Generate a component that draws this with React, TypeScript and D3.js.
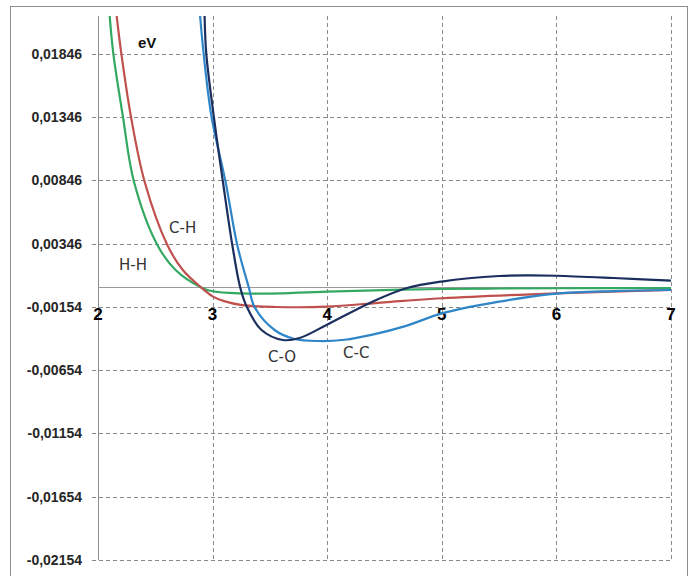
import * as React from 'react'
import * as d3 from 'd3'

const xTicks = [2, 3, 4, 5, 6, 7]
const yTicks = [0.01846, 0.01346, 0.00846, 0.00346, -0.00154, -0.00654, -0.01154, -0.01654, -0.02154]
const yTickLabels = ['0,01846', '0,01346', '0,00846', '0,00346', '-0,00154', '-0,00654', '-0,01154', '-0,01654', '-0,02154']

// H-H
const hhPoints: [number, number][] = [
  [2.102, 0.02146], [2.134, 0.01846], [2.218, 0.01348], [2.314, 0.00836], [2.518, 0.00336],
  [2.677, 0.00138], [2.9, 0], [3.0, -0.0003], [3.26, -0.00047], [3.5, -0.00048],
  [4.0, -0.00032], [5.0, -0.00012], [6.0, -0.00006], [7.0, -0.00004],
]
// C-H
const chPoints: [number, number][] = [
  [2.163, 0.02146], [2.204, 0.01846], [2.288, 0.01348], [2.407, 0.00836], [2.605, 0.00336],
  [2.74, 0.00138], [2.9, 0], [3.0, -0.0007], [3.1, -0.00108], [3.26, -0.0014], [3.55, -0.00154],
  [3.99, -0.00152], [4.5, -0.00117], [5.0, -0.00085], [6.0, -0.00046], [7.0, -0.0002],
]
// C-O
const coPoints: [number, number][] = [
  [2.93, 0.02146], [2.945, 0.01846], [3.011, 0.01348], [3.09, 0.00836], [3.172, 0.00336],
  [3.241, 0], [3.299, -0.00154], [3.427, -0.00336], [3.613, -0.00415], [3.759, -0.00399],
  [3.994, -0.00296], [4.395, -0.00112], [4.689, -0.00006], [4.997, 0.00047], [5.5, 0.00091],
  [5.76, 0.00096], [6.0, 0.00093], [6.5, 0.00075], [7.0, 0.00054],
]
// C-C
const ccPoints: [number, number][] = [
  [2.891, 0.02146], [2.922, 0.01846], [2.991, 0.01348], [3.113, 0.00836], [3.215, 0.00336],
  [3.316, 0], [3.366, -0.00154], [3.541, -0.00336], [3.715, -0.00407], [3.933, -0.00423],
  [4.151, -0.00413], [4.395, -0.00372], [4.689, -0.00303], [5.0, -0.00205], [5.5, -0.00112],
  [6.0, -0.00048], [6.5, -0.00028], [7.0, -0.0002],
]

const series = [
  { name: 'H-H', points: hhPoints, color: '#33a860', label: [119, 270] },
  { name: 'C-H', points: chPoints, color: '#c0504d', label: [169, 233] },
  { name: 'C-C', points: ccPoints, color: '#2e86c8', label: [343, 358] },
  { name: 'C-O', points: coPoints, color: '#1b2f5e', label: [268, 362] },
]

export default function App() {
  const svgRef = React.useRef<SVGSVGElement>(null)

  React.useEffect(() => {
    if (!svgRef.current) return
    const width = 695
    const height = 576
    const left = 98
    const right = 671
    const top = 16
    const bottom = 560

    const svg = d3.select(svgRef.current)
    svg.selectAll('*').remove()
    svg.attr('viewBox', `0 0 ${width} ${height}`)

    const x = d3.scaleLinear().domain([2, 7]).range([left, right])
    const y = d3.scaleLinear().domain([-0.02154, 0.02146]).range([bottom, top])

    svg.append('rect').attr('width', width).attr('height', height).attr('fill', '#fff')
    svg.append('rect')
      .attr('x', 10.5).attr('y', 6.5).attr('width', 677).attr('height', 600)
      .attr('fill', 'none').attr('stroke', '#8c8c8c')

    // gridlines
    yTicks.forEach((t) => {
      svg.append('line')
        .attr('x1', left - 6).attr('x2', right)
        .attr('y1', Math.round(y(t)) + 0.5).attr('y2', Math.round(y(t)) + 0.5)
        .attr('stroke', '#8a8a8a').attr('stroke-dasharray', '4,3')
    })
    xTicks.slice(1).forEach((t) => {
      svg.append('line')
        .attr('x1', Math.round(x(t)) + 0.5).attr('x2', Math.round(x(t)) + 0.5)
        .attr('y1', top).attr('y2', bottom)
        .attr('stroke', '#8a8a8a').attr('stroke-dasharray', '4,3')
    })

    // axes
    svg.append('line')
      .attr('x1', left + 0.5).attr('x2', left + 0.5).attr('y1', top).attr('y2', bottom)
      .attr('stroke', '#8c8c8c')
    svg.append('line')
      .attr('x1', left).attr('x2', right).attr('y1', Math.round(y(0)) + 0.5).attr('y2', Math.round(y(0)) + 0.5)
      .attr('stroke', '#9a9a9a')

    // tick labels
    yTicks.forEach((t, i) => {
      svg.append('text')
        .attr('x', 82).attr('y', y(t))
        .attr('text-anchor', 'end').attr('dominant-baseline', 'central')
        .attr('font-family', 'Liberation Sans, Arial, sans-serif')
        .attr('font-size', '14px').attr('font-weight', 'bold').attr('fill', '#262626')
        .text(yTickLabels[i])
    })
    xTicks.forEach((t) => {
      svg.append('text')
        .attr('x', x(t)).attr('y', 320)
        .attr('text-anchor', 'middle')
        .attr('font-family', 'Liberation Sans, Arial, sans-serif')
        .attr('font-size', '17px').attr('font-weight', 'bold').attr('fill', '#000')
        .text(String(t))
    })

    svg.append('text')
      .attr('x', 138).attr('y', 48)
      .attr('font-family', 'Liberation Sans, Arial, sans-serif')
      .attr('font-size', '15px').attr('font-weight', 'bold').attr('fill', '#111')
      .text('eV')

    svg.append('clipPath').attr('id', 'plot-clip')
      .append('rect').attr('x', left).attr('y', top).attr('width', right - left + 1).attr('height', bottom - top)

    const line = d3.line<[number, number]>()
      .x((d) => x(d[0]))
      .y((d) => y(d[1]))
      .curve(d3.curveCatmullRom.alpha(0.5))

    const g = svg.append('g').attr('clip-path', 'url(#plot-clip)')
    series.forEach((s) => {
      g.append('path')
        .datum(s.points)
        .attr('d', line)
        .attr('fill', 'none')
        .attr('stroke', s.color)
        .attr('stroke-width', 2.2)
    })

    series.forEach((s) => {
      svg.append('text')
        .attr('x', s.label[0]).attr('y', s.label[1])
        .attr('font-family', 'DejaVu Sans, sans-serif')
        .attr('font-size', '15px').attr('fill', '#333')
        .text(s.name)
    })
  }, [])

  return (
    <svg
      ref={svgRef}
      width={695}
      height={576}
      style={{ position: 'absolute', left: 0, top: 0, display: 'block' }}
    />
  )
}
